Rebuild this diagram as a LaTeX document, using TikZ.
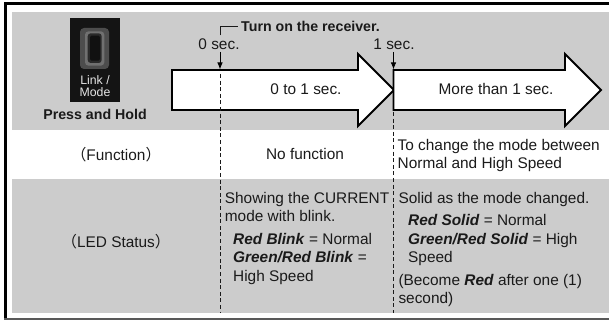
\documentclass[tikz,border=0pt]{standalone}
\usepackage{fontspec}
\setmainfont{Liberation Sans}
\newfontfamily\cjk{Noto Sans CJK JP}
\usetikzlibrary{arrows.meta}
\definecolor{bg}{HTML}{CCCCCC}
\definecolor{ink}{HTML}{1A1A1A}
\definecolor{ringA}{HTML}{4D4D4D}
\definecolor{ringB}{HTML}{707070}
\definecolor{ringC}{HTML}{2A2A2A}
\definecolor{ringD}{HTML}{111111}
\begin{document}
\begin{tikzpicture}[x=1pt,y=-1pt,
  txt/.style={inner sep=0pt, text=ink, font=\fontsize{15.4}{18.4}\selectfont},
  bl/.style={txt, anchor=base west},
  bc/.style={txt, anchor=base},
  boldlbl/.style={inner sep=0pt, text=ink, font=\fontsize{14.2}{17}\selectfont\bfseries},
  keylbl/.style={inner sep=0pt, text=gray!20, anchor=base, font=\fontsize{12.3}{12}\selectfont},
  timearrow/.style={draw=black, fill=white, line width=1.9pt, line join=miter},
  divider/.style={draw=ink, line width=0.9pt, dash pattern=on 4pt off 2.6pt},
  tick/.style={draw=black, line width=0.9pt, -{Latex[length=7pt,width=5.5pt]}},
  bracket/.style={draw=ink, line width=0.9pt}
]
\useasboundingbox (0,0) rectangle (609,320);
% background bands
\fill[bg] (12,12) rectangle (609,130);
\fill[bg] (12,179) rectangle (609,313);
% frame
\draw[line width=2.6pt] (5.3,320) -- (5.3,3.7) -- (609,3.7);
\draw[line width=1.5pt, gray!70!black] (4,319.2) -- (609,319.2);

% Link/Mode key icon
\fill[black!92] (70,18) rectangle (120,102);
\fill[ringA, rounded corners=4pt] (80,28) rectangle (109,69);
\fill[ringB, rounded corners=3.5pt] (85,31.3) rectangle (104.3,65.7);
\fill[ringC, rounded corners=3pt] (87.7,33.3) rectangle (101.7,63);
\fill[ringD, rounded corners=1.5pt] (90,35.7) rectangle (100,60.7);
\node[keylbl] (link) at (95,85) {Link /};
\node[keylbl] (mode) at (95,96.7) {Mode};
\node[boldlbl, anchor=base] (press) at (95,120) {Press and Hold};

% time arrows
\draw[timearrow] (172,70) -- (358,70) -- (358,54) -- (394,90) -- (358,126) -- (358,110) -- (172,110) -- cycle;
\draw[timearrow] (393.5,70) -- (565,70) -- (565,54) -- (601,90) -- (565,126) -- (565,110) -- (393.5,110) -- cycle;
\node[bc] (r1) at (306,95) {0 to 1 sec.};
\node[bc] (r2) at (496,95) {More than 1 sec.};

% dividers
\coordinate (d0top) at (220,74);
\coordinate (d0bot) at (220,313);
\coordinate (d1top) at (393.5,112);
\coordinate (d1bot) at (393.5,313);
\draw[divider] (d0top) -- (d0bot);
\draw[divider] (d1top) -- (d1bot);

% time marks
\node[bc] (t0) at (219,49.3) {0 sec.};
\node[bc] (t1) at (394,49.3) {1 sec.};
\coordinate (m0a) at (220,52);
\coordinate (m0b) at (220,69.5);
\coordinate (m1a) at (393.5,52);
\coordinate (m1b) at (393.5,69.5);
\draw[tick] (m0a) -- (m0b);
\draw[tick] (m1a) -- (m1b);
\node[boldlbl, anchor=base west] (turn) at (241,31.7) {Turn on the receiver.};
\coordinate (bk) at (220,35.5);
\draw[bracket] (bk) |- ([xshift=-3.5pt]turn.west);

% function row
\node[bc] (fn) at (116,160.5) {{\cjk （}Function{\cjk ）}};
\node[bc] (nofn) at (305,160) {No function};
\node[bl] (chg1) at (397.5,150.3) {To change the mode between};
\node[bl] (chg2) at (397.5,168.7) {Normal and High Speed};

% LED row
\node[bc] (led) at (116,247) {{\cjk （}LED Status{\cjk ）}};
\node[bl] (a1) at (224.7,203.3) {Showing the CURRENT};
\node[bl] (a2) at (224.7,221.7) {mode with blink.};
\node[bl] (a3) at (233,244) {\textbf{\textit{Red Blink}} = Normal};
\node[bl] (a4) at (233,262.3) {\textbf{\textit{Green/Red Blink}} =};
\node[bl] (a5) at (233,281) {High Speed};

\node[bl] (b1) at (398.3,203.3) {Solid as the mode changed.};
\node[bl] (b2) at (408,225.7) {\textbf{\textit{Red Solid}} = Normal};
\node[bl] (b3) at (408,244) {\textbf{\textit{Green/Red Solid}} = High};
\node[bl] (b4) at (408,262.3) {Speed};
\node[bl] (b5) at (398.3,285.5) {(Become \textbf{\textit{Red}} after one (1)};
\node[bl] (b6) at (398.3,303.9) {second)};
\end{tikzpicture}
\end{document}
